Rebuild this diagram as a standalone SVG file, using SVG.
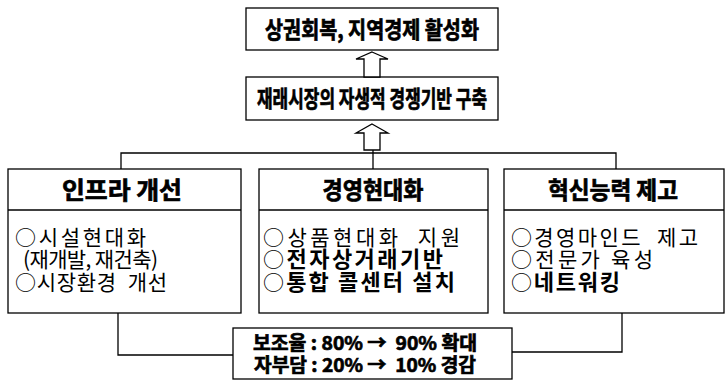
<svg xmlns="http://www.w3.org/2000/svg" width="726" height="381" viewBox="0 0 726 381">
<style>
.box{fill:#fff;stroke:#000;stroke-width:1.3}
.ln{fill:none;stroke:#000;stroke-width:1.3}
.arrow{fill:#fff;stroke:#000;stroke-width:1.3;stroke-linejoin:miter}
.hd{font-family:"Noto Sans CJK KR","Liberation Sans",sans-serif;font-weight:700;fill:#000;stroke:#000;stroke-width:0.7;text-anchor:middle}
.bd{font-family:"Noto Sans CJK KR","Liberation Sans",sans-serif;font-weight:400;font-size:21px;fill:#000}
.bb{font-weight:700;font-size:22px}
</style>
<rect width="726" height="381" fill="#fff"/>
<g id="goal">
<rect class="box" x="246" y="8" width="252" height="42"/>
<text class="hd" x="372" y="38" font-size="23" textLength="214" lengthAdjust="spacingAndGlyphs">상권회복, 지역경제 활성화</text>
</g>
<g id="base">
<rect class="box" x="246" y="77" width="252" height="43"/>
<text class="hd" x="372" y="107" font-size="23" textLength="230" lengthAdjust="spacingAndGlyphs">재래시장의 자생적 경쟁기반 구축</text>
</g>
<g id="infra">
<rect class="box" x="8" y="169" width="233" height="144"/>
<line class="ln" x1="8" y1="210" x2="241" y2="210"/>
<text class="hd" x="122" y="199" font-size="24" textLength="120" lengthAdjust="spacingAndGlyphs">인프라 개선</text>
<text class="bd" xml:space="preserve"><tspan x="15" y="245" textLength="131" lengthAdjust="spacing">○시설현대화</tspan><tspan x="23" y="267" textLength="135" lengthAdjust="spacing">(재개발, 재건축)</tspan><tspan x="15" y="290" textLength="152" lengthAdjust="spacing">○시장환경  개선</tspan></text>
</g>
<g id="mgmt">
<rect class="box" x="259" y="169" width="229" height="144"/>
<line class="ln" x1="259" y1="210" x2="488" y2="210"/>
<text class="hd" x="373" y="199" font-size="24" textLength="101" lengthAdjust="spacingAndGlyphs">경영현대화</text>
<text class="bd" xml:space="preserve"><tspan x="263" y="245" textLength="197" lengthAdjust="spacing">○상품현대화  지원</tspan><tspan x="263" y="267" textLength="180" lengthAdjust="spacing">○<tspan class="bb">전자상거래기반</tspan></tspan><tspan x="263" y="290" textLength="192" lengthAdjust="spacing">○<tspan class="bb">통합 콜센터 설치</tspan></tspan></text>
</g>
<g id="innov">
<rect class="box" x="504" y="169" width="220" height="144"/>
<line class="ln" x1="504" y1="210" x2="724" y2="210"/>
<text class="hd" x="613" y="199" font-size="24" textLength="130" lengthAdjust="spacingAndGlyphs">혁신능력 제고</text>
<text class="bd" xml:space="preserve"><tspan x="511" y="245" textLength="187" lengthAdjust="spacing">○경영마인드  제고</tspan><tspan x="511" y="267" textLength="142" lengthAdjust="spacing">○전문가 육성</tspan><tspan x="511" y="290" textLength="109" lengthAdjust="spacing">○<tspan class="bb">네트워킹</tspan></tspan></text>
</g>
<g id="support">
<rect class="box" x="233" y="328" width="279" height="51"/>
<text class="hd" font-size="19" xml:space="preserve"><tspan x="365" y="350" textLength="224" lengthAdjust="spacingAndGlyphs">보조율 : 80% →  90% 확대</tspan><tspan x="365" y="372" textLength="222" lengthAdjust="spacingAndGlyphs">자부담 : 20% →  10% 경감</tspan></text>
</g>
<g id="connectors">
<path class="arrow" d="M372,52 L388,59 L380,59 L380,77 L364,77 L364,59 L356,59 Z"/>
<path class="arrow" d="M372,124 L388,133 L380,133 L380,150 L364,150 L364,133 L356,133 Z"/>
<line class="ln" x1="373" y1="150" x2="373" y2="169"/>
<polyline class="ln" points="121,169 121,153 616,153 616,169"/>
<polyline class="ln" points="118,313 118,355 233,355"/>
<polyline class="ln" points="622,313 622,352 512,352"/>
</g>
</svg>
